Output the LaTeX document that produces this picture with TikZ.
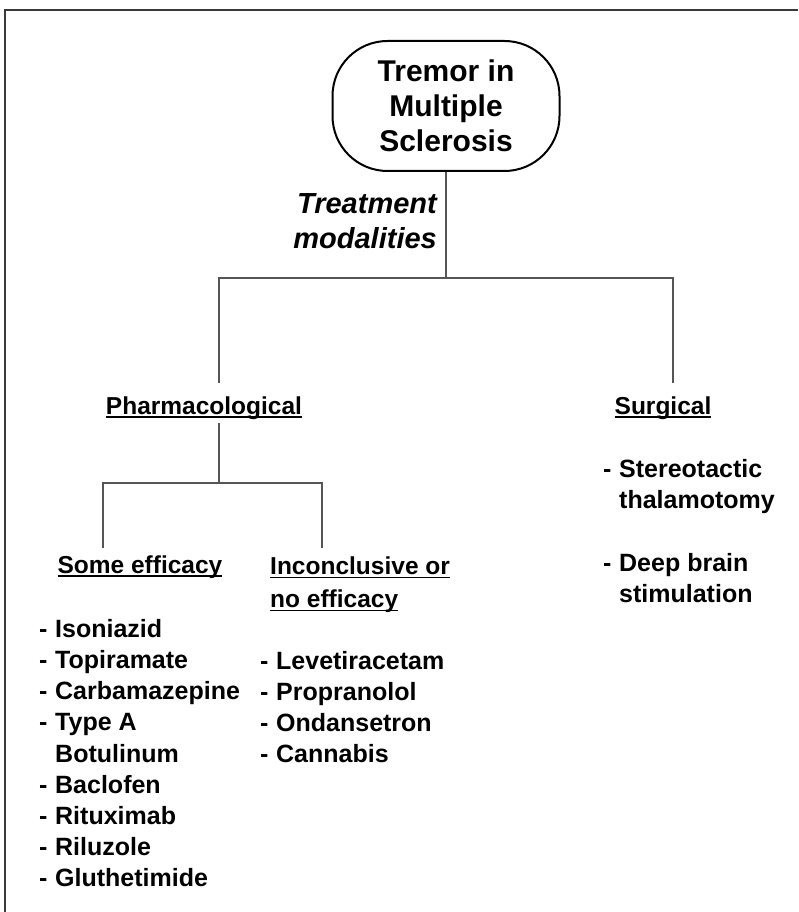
\documentclass[tikz,border=0pt]{standalone}
\usepackage{fontspec}
\setmainfont{Liberation Sans}
\definecolor{FrameGray}{HTML}{3A3A3A}
\definecolor{LinkGray}{HTML}{555555}
\newcommand{\uln}[1]{\setbox0\hbox{#1}\rlap{\rule[-3.5pt]{\wd0}{1.6pt}}\box0}
\newcommand{\dashitem}[1]{\makebox[16pt][l]{-}#1}
\newcommand{\contitem}[1]{\hspace*{16pt}#1}
\usetikzlibrary{positioning}

\begin{document}
\begin{tikzpicture}[
        x=1pt, y=-1pt,
        root/.style={draw=black, line width=2pt, rounded corners=55pt, minimum width=227pt, minimum height=130pt, align=center, font=\fontsize{30}{35}\selectfont\bfseries},
        head/.style={inner sep=0pt, align=left, font=\fontsize{24.5}{33}\selectfont\bfseries},
        lst/.style={inner sep=0pt, align=left, font=\fontsize{25}{31.2}\selectfont\bfseries},
        link/.style={line width=1.3pt, LinkGray},
        frame/.style={line width=2pt, FrameGray}
    ]
    \useasboundingbox (0,0) rectangle (798,912);
    \draw[frame] (5,912) -- (5,10) -- (798,10);

    \node[root] (root) at (446,106) {Tremor in\\Multiple\\Sclerosis};
    \node[inner sep=0pt, anchor=north east, align=right, font=\fontsize{29}{35}\selectfont\bfseries\itshape] (treat) at (437,193) {Treatment\\modalities};

    \node[head, anchor=base] (pharm) at (204,414) {\uln{Pharmacological}};
    \node[head, anchor=base] (surg) at (663,414) {\uln{Surgical}};
    \node[head, anchor=base] (some) at (140,573) {\uln{Some efficacy}};
    \node[head, anchor=north west] (incon) at (270,557) {\uln{Inconclusive or}\\\uln{no efficacy}};

    \node[lst, anchor=north west] (somelist) at (39,619) {\dashitem{Isoniazid}\\\dashitem{Topiramate}\\\dashitem{Carbamazepine}\\\dashitem{Type A}\\\contitem{Botulinum}\\\dashitem{Baclofen}\\\dashitem{Rituximab}\\\dashitem{Riluzole}\\\dashitem{Gluthetimide}};
    \node[lst, anchor=north west] (inconlist) at (260,651) {\dashitem{Levetiracetam}\\\dashitem{Propranolol}\\\dashitem{Ondansetron}\\\dashitem{Cannabis}};
    \node[lst, anchor=north west] (surglist) at (603,459) {\dashitem{Stereotactic}\\\contitem{thalamotomy}\\[32pt]\dashitem{Deep brain}\\\contitem{stimulation}};

    \coordinate (split) at (446,278);
    \coordinate (pleg) at (219,383);
    \coordinate (sleg) at (673,383);
    \coordinate (psplit) at (219,483);
    \coordinate (someleg) at (103,548);
    \coordinate (inconleg) at (322,548);

    \draw[link] (root.south) -- (split);
    \draw[link] (split) -| (pleg);
    \draw[link] (split) -| (sleg);
    \draw[link] ([yshift=-4pt]pharm.south -| psplit) -- (psplit);
    \draw[link] (psplit) -| (someleg);
    \draw[link] (psplit) -| (inconleg);
\end{tikzpicture}
\end{document}
